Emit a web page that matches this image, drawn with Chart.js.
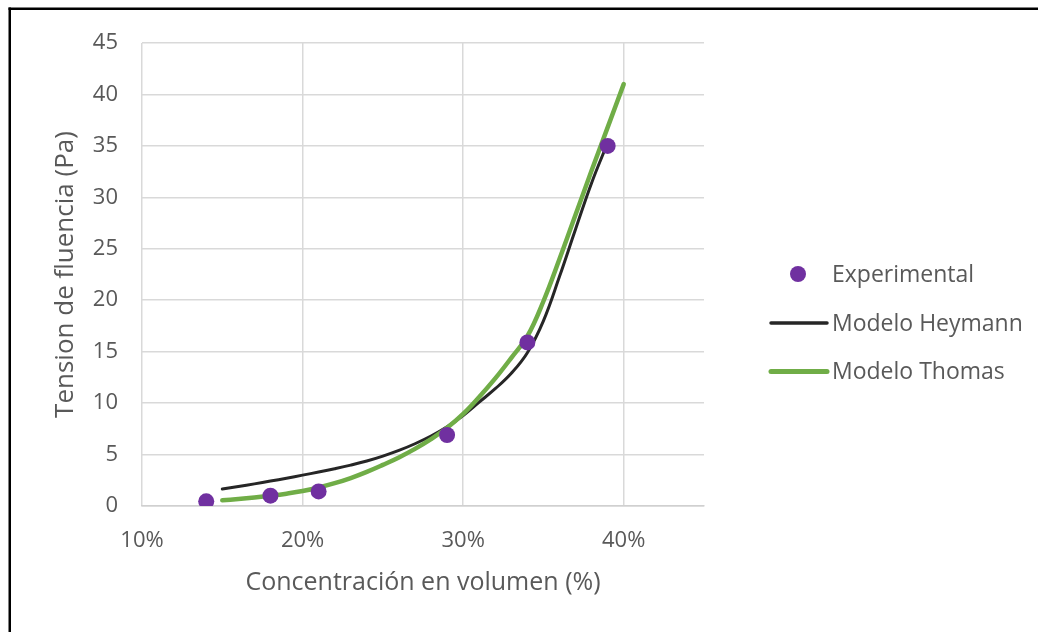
<!DOCTYPE html>
<html>
<head>
<meta charset="utf-8">
<script src="https://cdn.jsdelivr.net/npm/chart.js@4"></script>
<style>
  html, body { margin: 0; padding: 0; background: #fff; }
  #wrap { position: relative; width: 1038px; height: 632px; }
</style>
</head>
<body>
<div id="wrap"><canvas id="c" width="1038" height="632"></canvas></div>
<script>
// ---- data ----
const xTickValues = [10, 20, 30, 40];
const seriesNames = ['Experimental', 'Modelo Heymann', 'Modelo Thomas'];

const expConc    = [14, 18, 21, 29, 34, 39];
const expTension = [0.45, 1.0, 1.42, 6.9, 15.9, 35.0];

const heyConc    = [15, 16, 17, 18, 19, 20, 21, 22, 23, 24, 25, 26, 27, 28, 29, 30, 31, 32, 33, 34, 35, 36, 37, 38, 39];
const heyTension = [1.65, 1.9, 2.15, 2.42, 2.7, 3.0, 3.3, 3.62, 3.97, 4.37, 4.85, 5.4, 6.05, 6.8, 7.7, 8.8, 10.1, 11.4, 12.9, 14.9, 18.0, 22.3, 26.9, 31.4, 35.3];

const thoConc    = [15, 16, 17, 18, 19, 20, 21, 22, 23, 24, 25, 26, 27, 28, 29, 30, 31, 32, 33, 34, 35, 36, 37, 38, 39, 40];
const thoTension = [0.55, 0.68, 0.83, 1.0, 1.2, 1.45, 1.8, 2.22, 2.72, 3.32, 4.0, 4.72, 5.55, 6.5, 7.6, 8.95, 10.6, 12.4, 14.4, 16.5, 19.9, 24.0, 28.3, 32.6, 36.8, 41.0];

const toPts = (xs, ys) => xs.map((x, i) => ({ x: x, y: ys[i] }));

const FONT = '"Open Sans", "Noto Sans", sans-serif';
const TXT = '#595959';

// frame around the picture
const framePlugin = {
  id: 'frame',
  afterDraw(chart) {
    const ctx = chart.ctx;
    ctx.save();
    ctx.fillStyle = '#000';
    ctx.fillRect(8.5, 7.5, 2.5, 640);
    ctx.fillRect(8.5, 7.5, 1040, 2.5);
    ctx.restore();
  }
};

// legend drawn like the reference (marker column, then label)
const legendPlugin = {
  id: 'sideLegend',
  afterDraw(chart) {
    const ctx = chart.ctx;
    const ds = chart.data.datasets;
    const mx = 799, tx = 832;
    const rows = [274, 323, 371.5];
    ctx.save();
    ctx.font = '23px ' + FONT;
    ctx.textBaseline = 'middle';
    ds.forEach((d, i) => {
      const y = rows[i];
      if (d.showLine) {
        ctx.strokeStyle = d.borderColor;
        ctx.lineWidth = d.borderWidth + 0.5;
        ctx.lineCap = 'round';
        ctx.beginPath();
        ctx.moveTo(mx - 28, y);
        ctx.lineTo(mx + 28, y);
        ctx.stroke();
      } else {
        ctx.fillStyle = d.backgroundColor;
        ctx.beginPath();
        ctx.arc(mx - 1, y, 8, 0, Math.PI * 2);
        ctx.fill();
      }
      ctx.fillStyle = TXT;
      ctx.fillText(d.label, tx, y + 1);
    });
    ctx.restore();
  }
};

new Chart(document.getElementById('c'), {
  type: 'scatter',
  data: {
    datasets: [
      {
        label: seriesNames[0],
        data: toPts(expConc, expTension),
        showLine: false,
        pointRadius: 8,
        pointHoverRadius: 8,
        backgroundColor: '#7030a0',
        borderColor: '#7030a0',
        borderWidth: 0,
        order: 0
      },
      {
        label: seriesNames[1],
        data: toPts(heyConc, heyTension),
        showLine: true,
        pointRadius: 0,
        borderColor: '#262626',
        backgroundColor: '#262626',
        borderWidth: 3,
        tension: 0.4,
        borderCapStyle: 'round',
        order: 2
      },
      {
        label: seriesNames[2],
        data: toPts(thoConc, thoTension),
        showLine: true,
        pointRadius: 0,
        borderColor: '#70ad47',
        backgroundColor: '#70ad47',
        borderWidth: 4.5,
        tension: 0.4,
        borderCapStyle: 'round',
        order: 1
      }
    ]
  },
  options: {
    responsive: false,
    animation: false,
    devicePixelRatio: 1,
    layout: { padding: { left: 40, top: 43, right: 334, bottom: 30 } },
    plugins: {
      legend: { display: false },
      tooltip: { enabled: false }
    },
    scales: {
      x: {
        type: 'linear',
        min: 10,
        max: 45,
        afterBuildTicks(scale) {
          scale.ticks = xTickValues.map(v => ({ value: v }));
        },
        afterFit(scale) { scale.height = 96; },
        grid: { color: '#d9d9d9', lineWidth: 1.5, drawTicks: false },
        border: { color: '#d0d0d0', width: 1.5 },
        ticks: {
          padding: 22,
          color: TXT,
          font: { family: FONT, size: 22 },
          callback: v => v + '%'
        },
        title: {
          display: true,
          text: 'Concentración en volumen (%)',
          color: TXT,
          font: { family: FONT, size: 25, lineHeight: 1 },
          padding: { top: 0, bottom: 6.5 }
        }
      },
      y: {
        min: 0,
        max: 45,
        afterFit(scale) { scale.width = 102; },
        grid: { color: '#d9d9d9', lineWidth: 1.5, drawTicks: false },
        border: { display: false },
        ticks: {
          stepSize: 5,
          padding: 24,
          color: TXT,
          font: { family: FONT, size: 22 }
        },
        title: {
          display: true,
          text: 'Tension de fluencia (Pa)',
          color: TXT,
          font: { family: FONT, size: 26, lineHeight: 1 },
          padding: { top: 13, bottom: 0 }
        }
      }
    }
  },
  plugins: [framePlugin, legendPlugin]
});
</script>
</body>
</html>
